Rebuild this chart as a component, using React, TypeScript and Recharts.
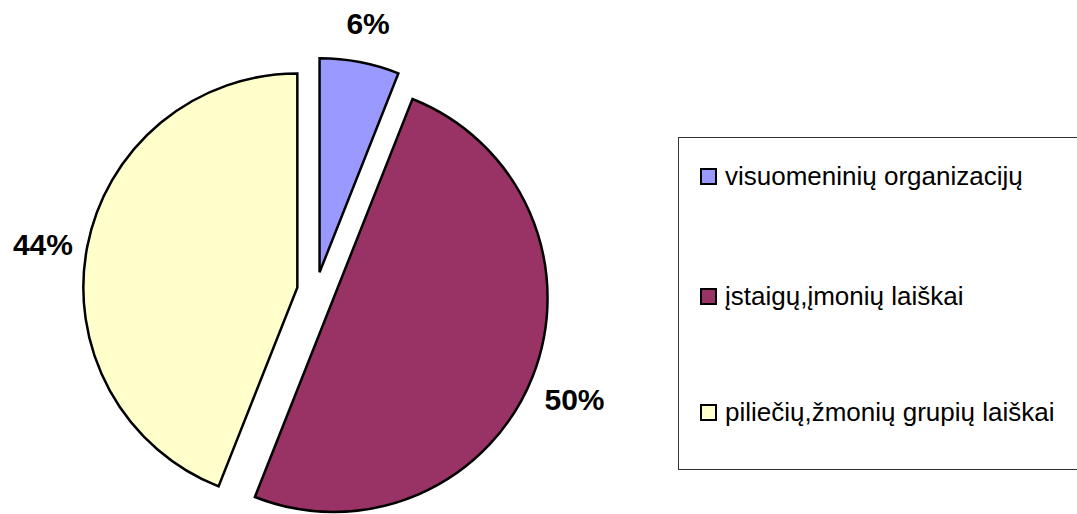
import React from 'react';
import { PieChart, Pie, Cell, Sector, Legend } from 'recharts';

const categories = ['visuomeninių organizacijų', 'įstaigų,įmonių laiškai', 'piliečių,žmonių grupių laiškai'];
const shares = [6, 50, 44];
const sliceColors = ['#9999FF', '#993366', '#FFFFCC'];

const data = categories.map((name, i) => ({ name, value: shares[i] }));

const RADIAN = Math.PI / 180;
const EXPLODE = 19;

// Excel-style exploded slice: push each sector out along its mid angle
const ExplodedSector = (props: any) => {
  const { cx, cy, midAngle } = props;
  const dx = EXPLODE * Math.cos(-midAngle * RADIAN);
  const dy = EXPLODE * Math.sin(-midAngle * RADIAN);
  return <Sector {...props} cx={cx + dx} cy={cy + dy} />;
};

const renderLabel = (props: any) => {
  const { cx, cy, midAngle, outerRadius, value } = props;
  const r = outerRadius + 64;
  const x = cx + r * Math.cos(-midAngle * RADIAN);
  const y = cy + r * Math.sin(-midAngle * RADIAN) + 6;
  return (
    <text
      x={x}
      y={y}
      textAnchor="middle"
      dominantBaseline="central"
      fill="#000"
      fontSize={30}
      fontWeight="bold"
      fontFamily="'Liberation Sans', Arial, sans-serif"
    >
      {`${value}%`}
    </text>
  );
};

const itemGaps = [0, 90, 86];

const renderLegend = (props: any) => {
  // keep the legend in the data order, not sorted by name
  const payload = [...(props.payload || [])].sort(
    (a: any, b: any) => categories.indexOf(a.value) - categories.indexOf(b.value)
  );
  return (
    <div
      style={{
        width: 410,
        height: 333,
        border: '1px solid #333',
        boxSizing: 'border-box',
        paddingLeft: 21,
        paddingTop: 23,
        fontFamily: "'Liberation Sans', Arial, sans-serif",
        color: '#000',
      }}
    >
      {payload.map((entry: any, i: number) => (
        <div
          key={i}
          style={{ display: 'flex', alignItems: 'center', height: 30, marginTop: itemGaps[i] }}
        >
          <span
            style={{
              display: 'inline-block',
              width: 17,
              height: 17,
              background: entry.color,
              border: '2px solid #000',
              boxSizing: 'border-box',
              marginRight: 8,
              flex: 'none',
            }}
          />
          <span style={{ fontSize: 26, lineHeight: '30px', whiteSpace: 'nowrap' }}>{entry.value}</span>
        </div>
      ))}
    </div>
  );
};

export default function App() {
  return (
    <div style={{ width: 1077, height: 514, background: '#fff', overflow: 'hidden' }}>
      <style>{'body{margin:0;}'}</style>
      <PieChart width={1077} height={514} margin={{ top: 0, right: 0, bottom: 0, left: 0 }}>
        <Pie
          data={data}
          dataKey="value"
          nameKey="name"
          cx={316}
          cy={291}
          outerRadius={214}
          startAngle={90}
          endAngle={-270}
          stroke="#000"
          strokeWidth={2.5}
          shape={ExplodedSector}
          label={renderLabel}
          labelLine={false}
          isAnimationActive={false}
        >
          {data.map((d, i) => (
            <Cell key={d.name} fill={sliceColors[i]} />
          ))}
        </Pie>
        <Legend
          content={renderLegend}
          layout="vertical"
          wrapperStyle={{ position: 'absolute', left: 678, top: 137, width: 410 }}
        />
      </PieChart>
    </div>
  );
}
